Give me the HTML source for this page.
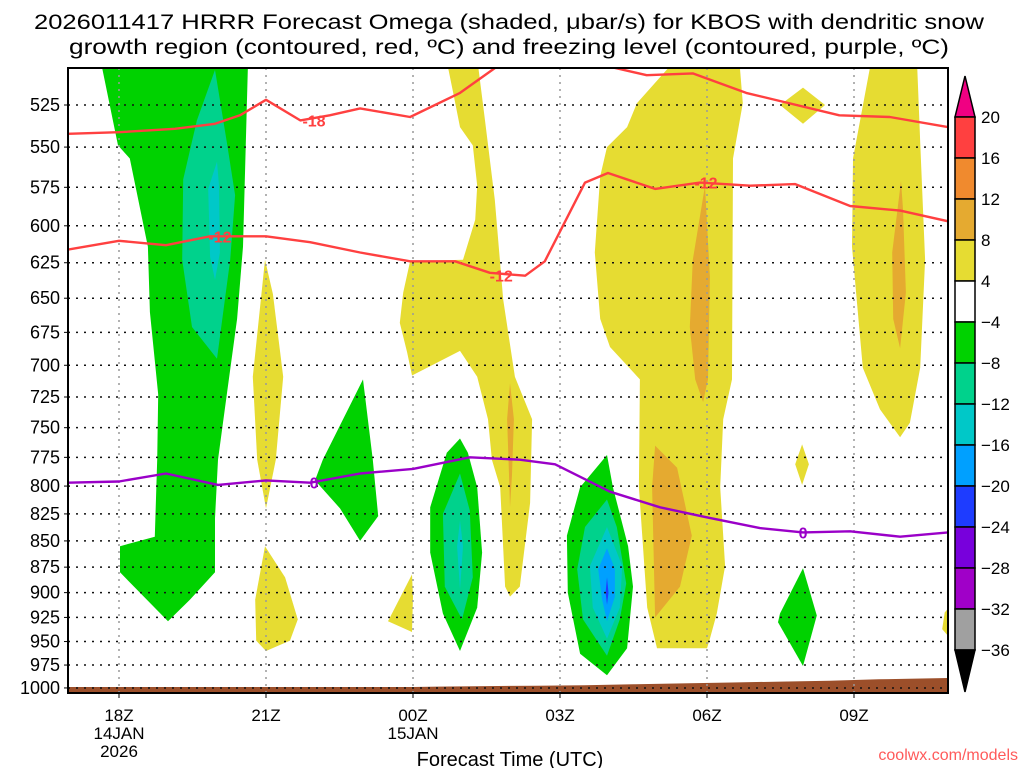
<!DOCTYPE html>
<html><head><meta charset="utf-8"><style>
html,body{margin:0;padding:0;background:#fff;}
svg{display:block;font-family:"Liberation Sans",sans-serif;}
</style></head><body>
<svg id="chart" width="1024" height="768" viewBox="0 0 1024 768" xmlns="http://www.w3.org/2000/svg">
<rect width="1024" height="768" fill="#fff"/>
<text x="509" y="29" font-size="21" text-anchor="middle" textLength="950" lengthAdjust="spacingAndGlyphs">2026011417 HRRR Forecast Omega (shaded, μbar/s) for KBOS with dendritic snow</text>
<text x="509" y="54" font-size="21" text-anchor="middle" textLength="880" lengthAdjust="spacingAndGlyphs">growth region (contoured, red, ºC) and freezing level (contoured, purple, ºC)</text>
<defs><clipPath id="plotclip"><rect x="68" y="68" width="880" height="625"/></clipPath></defs>
<g id="plot" clip-path="url(#plotclip)"></g>
<g id="overlay"></g>
<text x="510" y="766" font-size="20" text-anchor="middle">Forecast Time (UTC)</text>
<text x="1018" y="760" font-size="16" text-anchor="end" fill="#ff5a5a">coolwx.com/models</text>
</svg>
<script>
// ---- data ----
const hourTicks = [18, 21, 24, 27, 30, 33];
const hourTickLabels = ["18Z", "21Z", "00Z", "03Z", "06Z", "09Z"];
const dateLabels = [["14JAN", "2026"], [], ["15JAN"], [], [], []];
const pressureLevels = [525,550,575,600,625,650,675,700,725,750,775,800,825,850,875,900,925,950,975,1000];
const cbLevels = ["20","16","12","8","4","−4","−8","−12","−16","−20","−24","−28","−32","−36"];
const cbColors = ["#ff4040","#f08a2e","#e5aa30","#e6dc32","#ffffff","#00d200","#00d28c","#00c8c8","#00a0ff","#1e3cff","#7800dc","#a000c8","#a0a0a0"];

// shaded omega regions: [hour, pressure] vertices
const yellowBig1 = [[24.71,503],[24.82,518],[24.96,538],[25.22,549],[25.31,574],[25.27,596],[25.02,623],[23.94,624],[23.8,646],[23.73,668],[23.88,690],[23.98,708],[24.96,689],[25.31,709],[25.53,743],[25.61,777],[25.78,801],[25.88,894],[25.98,904],[26.18,894],[26.39,815],[26.43,743],[26.08,709],[25.84,651],[25.67,583],[25.47,534],[25.33,503]];
const yellowBig2 = [[29.24,503],[28.57,524],[28.37,538],[27.96,550],[27.82,568],[27.71,618],[27.82,665],[28.02,686],[28.63,711],[28.61,801],[28.78,915],[28.98,957],[30.0,957],[30.06,947],[30.2,921],[30.37,874],[30.27,801],[30.33,743],[30.51,711],[30.53,557],[30.73,524],[30.67,503]];
const yellowRight = [[33.33,503],[32.98,557],[32.96,614],[33.18,702],[33.53,735],[33.94,758],[34.14,746],[34.35,702],[34.45,623],[34.35,547],[34.29,503]];
const yellowSmall1 = [[20.98,623],[20.73,709],[20.82,777],[21.0,820],[21.2,777],[21.35,709],[21.14,647]];
const yellowSmall2 = [[20.98,855],[20.78,907],[20.8,949],[21.0,960],[21.49,949],[21.65,927],[21.39,885]];
const yellowSmall3 = [[23.98,882],[23.49,929],[23.98,940],[24.0,904]];
const yellowSmall4 = [[31.49,525],[31.96,515],[32.41,525],[31.96,536]];
const yellowSmall5 = [[31.94,764],[32.08,781],[31.94,799],[31.8,781]];
const yellowSmall6 = [[35.1,905],[34.85,920],[34.8,937],[35.1,955]];
const orange1 = [[25.98,714],[25.92,743],[25.96,790],[25.98,819],[26.02,790],[26.06,743]];
const orange2 = [[29.96,574],[29.71,623],[29.65,671],[29.76,711],[29.92,729],[30.02,711],[30.06,635]];
const orange3 = [[28.94,765],[28.88,801],[28.94,925],[29.45,894],[29.69,845],[29.39,784]];
const orange4 = [[33.96,571],[33.78,618],[33.8,665],[33.94,687],[34.06,646],[34.0,589]];
const green1 = [[17.65,503],[17.98,549],[18.22,557],[18.59,614],[18.63,660],[18.8,723],[18.78,777],[18.73,846],[18.02,855],[18.02,880],[19.0,929],[19.45,907],[19.96,880],[19.96,829],[20.02,777],[20.2,723],[20.41,665],[20.53,614],[20.63,503]];
const teal1 = [[19.96,505],[19.59,534],[19.31,570],[19.29,623],[19.49,671],[20.0,695],[20.27,623],[20.37,580],[20.2,547]];
const cyan1 = [[20.0,559],[19.82,576],[19.86,621],[19.96,637],[20.06,618],[20.04,574]];
const green2 = [[22.98,711],[22.16,777],[22.0,795],[22.51,820],[22.92,850],[23.29,827],[23.18,777]];
const green3 = [[24.96,759],[24.69,771],[24.35,819],[24.35,861],[24.61,921],[24.96,960],[25.31,915],[25.41,861],[25.31,801],[25.12,771]];
const teal3 = [[24.96,789],[24.61,825],[24.65,894],[25.0,927],[25.22,885],[25.16,822]];
const cyan3 = [[24.96,831],[24.9,855],[24.96,897],[25.02,855]];
const green4 = [[27.96,773],[27.41,801],[27.14,845],[27.16,900],[27.41,963],[27.96,986],[28.37,957],[28.49,894],[28.39,855],[28.08,801]];
const teal4 = [[27.96,812],[27.51,837],[27.35,877],[27.47,927],[27.96,965],[28.22,927],[28.35,891],[28.16,837]];
const cyan4 = [[27.96,837],[27.61,874],[27.67,915],[27.96,947],[28.22,915],[28.27,874]];
const lblue4 = [[27.96,857],[27.78,877],[27.86,907],[27.96,929],[28.12,904],[28.12,877]];
const dblue4 = [[27.96,885],[27.93,900],[27.96,912],[27.99,900]];
const green5 = [[31.96,876],[32.24,923],[31.96,976],[31.45,930],[31.49,921]];

// terrain surface pressure
const terrainHours = [16.9,24,24.5,25.5,26.5,27.5,28.5,29.5,30.5,31.5,32.5,33.5,35];
const terrainPres = [999,999,998.5,998,997.5,997,996,995,994,993,992,990.5,989];

// contour lines
const iso18Hours = [16.96,18,19.14,19.96,20.47,21,21.7,22.3,22.92,23.94,24.96,25.67,26.9,27.98,28.77,29.71,30.8,32.7,33.73,34.92];
const iso18Pres  = [542,541,539,536,531,522,534,531,527,532,518,504,488,503,508,507,518,531,532,538];
const iso12Hours = [16.96,18,18.96,19.86,21,21.9,22.92,23.94,24.86,25.57,26.29,26.69,27.51,27.98,28.94,29.86,30.88,31.8,32.92,33.94,34.92];
const iso12Pres  = [616,610,613,607,607,611,618,624,624,632,634,624,572,566,576,572,574,573,587,590,597];
const frzHours = [16.96,18,18.96,20.02,21,21.9,22.92,24,25.16,26.18,26.9,28.02,29.04,29.98,31.08,31.96,32.92,33.94,34.92];
const frzPres  = [797,796,789,799,795,797,789,785,775,777,781,805,819,828,838,842,841,846,842];
const labels18 = [[21.98,534,"-18"]];
const labels12 = [[20.06,607,"-12"],[25.8,634,"-12"],[29.98,572,"-12"]];
const labelsFrz = [[21.98,797,"0"],[31.96,842,"0"]];

// ---- axes ----
const X0 = 68, X1 = 948, Y0 = 68, Y1 = 693;
const xScale = h => 119 + (h - 18) * 49;
const yScale = p => 105 + 904.7 * Math.log(p / 525);
const NS = "http://www.w3.org/2000/svg";
const plot = document.getElementById('plot');
const overlay = document.getElementById('overlay');
function mk(tag, attrs, parent) {
  const e = document.createElementNS(NS, tag);
  for (const k in attrs) e.setAttribute(k, attrs[k]);
  parent.appendChild(e);
  return e;
}
function pts(arr) { return arr.map(d => xScale(d[0]).toFixed(1) + ',' + yScale(d[1]).toFixed(1)).join(' '); }

const regions = [
  [yellowBig1,"#e6dc32","yellow-region-01z"],[yellowBig2,"#e6dc32","yellow-region-06z"],[yellowRight,"#e6dc32","yellow-region-10z"],
  [yellowSmall1,"#e6dc32","yellow-region-21z-upper"],[yellowSmall2,"#e6dc32","yellow-region-21z-lower"],[yellowSmall3,"#e6dc32","yellow-region-00z"],
  [yellowSmall4,"#e6dc32","yellow-region-08z-upper"],[yellowSmall5,"#e6dc32","yellow-region-08z-mid"],[yellowSmall6,"#e6dc32","yellow-region-11z"],
  [orange1,"#e5aa30","orange-region-02z"],[orange2,"#e5aa30","orange-region-06z-upper"],[orange3,"#e5aa30","orange-region-05z"],[orange4,"#e5aa30","orange-region-10z"],
  [green1,"#00d200","green-region-19z"],[teal1,"#00d28c","teal-region-19z"],[cyan1,"#00c8c8","cyan-region-19z"],
  [green2,"#00d200","green-region-23z"],
  [green3,"#00d200","green-region-01z"],[teal3,"#00d28c","teal-region-01z"],[cyan3,"#00c8c8","cyan-region-01z"],
  [green4,"#00d200","green-region-04z"],[teal4,"#00d28c","teal-region-04z"],[cyan4,"#00c8c8","cyan-region-04z"],[lblue4,"#00a0ff","lightblue-region-04z"],[dblue4,"#1e3cff","blue-region-04z"],
  [green5,"#00d200","green-region-08z"]
];
for (const r of regions) {
  const e = mk('polygon', {points: pts(r[0]), fill: r[1]}, plot);
  
  
}
// terrain
const tp = terrainHours.map((h, i) => [h, terrainPres[i]]);
const terr = mk('polygon', {points: pts(tp) + ' ' + xScale(35) + ',' + (Y1 + 5) + ' ' + xScale(16.9) + ',' + (Y1 + 5), fill: "#9c4f2a"}, plot);



// grid
hourTicks.forEach(h => {
  const g = mk('line', {x1: xScale(h), x2: xScale(h), y1: Y0, y2: Y1, stroke: "#999", 'stroke-width': 1.5, 'stroke-dasharray': "2,5"}, plot);
  
  
});
pressureLevels.forEach(p => {
  const g = mk('line', {x1: X0, x2: X1, y1: yScale(p), y2: yScale(p), stroke: "#111", 'stroke-width': 1.5, 'stroke-dasharray': "2,6"}, plot);
  
  
});

// contour lines
function line(hs, ps, color, name) {
  const d = hs.map((h, i) => [h, ps[i]]);
  const e = mk('polyline', {points: pts(d), fill: "none", stroke: color, 'stroke-width': 2.4, 'stroke-linejoin': 'round'}, plot);
  
  
}
line(iso18Hours, iso18Pres, "#ff4040", "isotherm-minus18");
line(iso12Hours, iso12Pres, "#ff4040", "isotherm-minus12");
line(frzHours, frzPres, "#9a00c8", "freezing-level-line");
function lab(arr, color, name) {
  arr.forEach(d => {
    const t = mk('text', {x: xScale(d[0]), y: yScale(d[1]) + 6, 'font-size': 16, 'font-weight': 'bold', 'text-anchor': 'middle', fill: color}, plot);
    t.textContent = d[2];
    
    
  });
}
lab(labels18, "#ff4040", "contour-label-minus18");
lab(labels12, "#ff4040", "contour-label-minus12");
lab(labelsFrz, "#9a00c8", "contour-label-freezing");

// frame
const fr = mk('rect', {x: X0, y: Y0, width: X1 - X0, height: Y1 - Y0, fill: "none", stroke: "#000", 'stroke-width': 2}, overlay);



// y axis labels
pressureLevels.forEach(p => {
  const t = mk('text', {x: 60, y: yScale(p) + 6, 'font-size': 18, 'text-anchor': 'end'}, overlay);
  t.textContent = String(p);
  
  
  const tk = mk('line', {x1: X0 - 4, x2: X0, y1: yScale(p), y2: yScale(p), stroke: "#000", 'stroke-width': 1}, overlay);
  
  
});
// x axis labels
hourTicks.forEach((h, i) => {
  const x = xScale(h);
  const tk = mk('line', {x1: x, x2: x, y1: Y1, y2: Y1 + 5, stroke: "#000", 'stroke-width': 1}, overlay);
  
  
  const t = mk('text', {x: x, y: 721, 'font-size': 17, 'text-anchor': 'middle'}, overlay);
  t.textContent = hourTickLabels[i];
  
  
  dateLabels[i].forEach((s, j) => {
    const d = mk('text', {x: x, y: 739 + j * 18, 'font-size': 17, 'text-anchor': 'middle'}, overlay);
    d.textContent = s;
    
    
  });
});

// colorbar
const cbX = 955, cbW = 20, cbTop = 117, cbH = 41;
const tri1 = mk('polygon', {points: `${cbX},${cbTop} ${cbX + cbW},${cbTop} ${cbX + cbW / 2},76`, fill: "#f00082", stroke: "#000", 'stroke-width': 1.5}, overlay);


cbColors.forEach((c, i) => {
  const r = mk('rect', {x: cbX, y: cbTop + i * cbH, width: cbW, height: cbH, fill: c, stroke: "#000", 'stroke-width': 1.5}, overlay);
  
  
});
const cbBot = cbTop + cbColors.length * cbH;
const tri2 = mk('polygon', {points: `${cbX},${cbBot} ${cbX + cbW},${cbBot} ${cbX + cbW / 2},692`, fill: "#000", stroke: "#000", 'stroke-width': 1.5}, overlay);


cbLevels.forEach((s, i) => {
  const t = mk('text', {x: 981, y: cbTop + i * cbH + 6, 'font-size': 17}, overlay);
  t.textContent = s;
  
  
});
</script>
</body></html>
